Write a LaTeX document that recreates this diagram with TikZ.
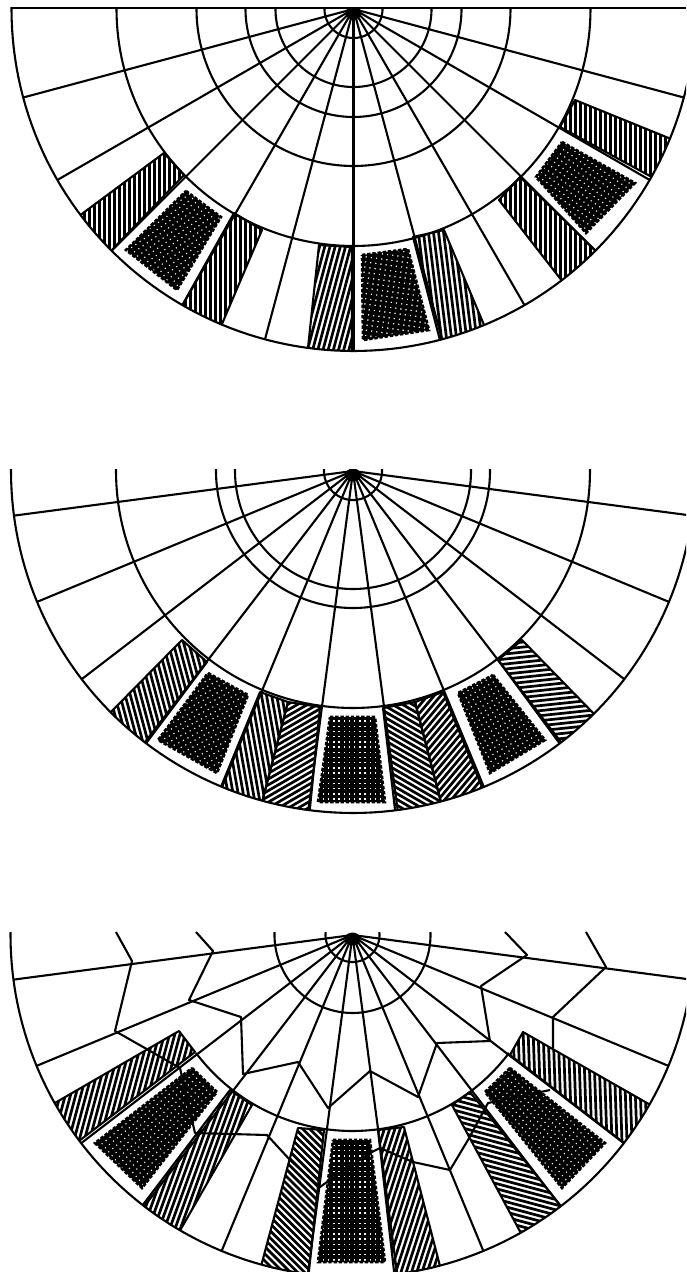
\documentclass[tikz,border=0pt]{standalone}
\usetikzlibrary{calc}
\newcommand{\hatchband}[3]{%
  \begin{scope}
    \clip #1 -- cycle;
    \foreach \k in {-28,...,28}
      \draw[hatchline, shift={(#2)}, rotate=#3] (-180,\k*5.0) -- (180,\k*5.0);
  \end{scope}
  \draw[wire] #1 -- cycle;}
\newcommand{\coilblock}[3]{%
  \begin{scope}
    \clip #1 -- cycle;
    \foreach \k in {-20,...,20} {
      \draw[gridline, shift={(#2)}, rotate=#3] (-120,\k*5.2) -- (120,\k*5.2);
      \draw[gridline, shift={(#2)}, rotate=#3] (\k*5.2,-120) -- (\k*5.2,120);
    }
  \end{scope}
  \draw[coiledge] #1 -- cycle;}
\begin{document}
\begin{tikzpicture}[
    x=1pt, y=-1pt,
    wire/.style={line width=2.1pt, line join=round},
    hatchline/.style={line width=2.7pt},
    gridline/.style={line width=3.8pt},
    coiledge/.style={line width=2.6pt, dash pattern=on 3.4pt off 1.8pt}
  ]
  \useasboundingbox (0,0) rectangle (686,1272);

  %% --- top section ---
  \begin{scope}
    \clip (353.5,9) circle (342);
    \hatchband{(75,219) -- (164,153) -- (184,175) -- (107,255)}{134.5,195}{90}
    \hatchband{(234,213) -- (262,230) -- (219,331) -- (179,311)}{225.5,265}{90}
    \coilblock{(186,191) -- (221,217) -- (177,290) -- (126,250)}{174,240}{-55}
    \hatchband{(319,245) -- (352,247) -- (352,358) -- (307,357)}{332,297}{75}
    \coilblock{(362,255) -- (408,249) -- (429,330) -- (363,340)}{395,295}{-8}
    \hatchband{(413,237) -- (444,230) -- (487,332) -- (442,348)}{445,285}{97}
    \coilblock{(562,142) -- (635,183) -- (586,233) -- (536,177)}{585,187}{-35}
    \hatchband{(575,100) -- (676,141) -- (661,182) -- (560,127)}{615.5,135}{90}
    \hatchband{(520,177) -- (499,200) -- (566,286) -- (600,255)}{545.5,225}{90}
  \end{scope}
  \begin{scope}
    \clip (0,7) rectangle (686,360);
    \begin{scope}[shift={(353.5,9)}]
      \foreach \r in {29,78,108,157,237,342}
        \draw[wire] plot[domain=-8:188, samples=121] (\x:\r);
      \foreach \a in {15,30,...,165}
        \draw[wire] (0,0) -- (\a:342);
      \fill (0,4) ellipse (8 and 6.5);
    \end{scope}
  \end{scope}
  \draw[line width=2.2pt] (11,8) -- (686,8);

  %% --- middle section ---
  \begin{scope}
    \clip (353,471) circle (342);
    \hatchband{(182,640) -- (207,662) -- (141,750) -- (106,717)}{160,690}{105}
    \coilblock{(208,673) -- (248,695) -- (217,773) -- (158,740)}{205,720}{-62}
    \hatchband{(260,692) -- (288,702) -- (260,810) -- (218,794)}{255,745}{100}
    \hatchband{(288,702) -- (320,707) -- (309,818) -- (260,810)}{290,755}{30}
    \coilblock{(330,717) -- (375,717) -- (385,802) -- (318,802)}{352,760}{0}
    \hatchband{(383,708) -- (415,702) -- (443,810) -- (396,818)}{410,755}{-30}
    \hatchband{(415,702) -- (443,692) -- (484,792) -- (443,810)}{445,745}{50}
    \coilblock{(493,675) -- (545,740) -- (490,773) -- (458,693)}{497,725}{30}
    \hatchband{(522,640) -- (498,660) -- (563,748) -- (599,719)}{545,690}{6}
  \end{scope}
  \begin{scope}
    \clip (0,469) rectangle (686,830);
    \begin{scope}[shift={(353,471)}]
      \foreach \r in {29,118,137,237,342}
        \draw[wire] plot[domain=-8:188, samples=121] (\x:\r);
      \foreach \a in {7.5,22.5,...,172.5}
        \draw[wire] (0,0) -- (\a:342);
      \fill (0,4) ellipse (8 and 6.5);
    \end{scope}
  \end{scope}

  %% --- bottom section ---
  \begin{scope}
    \clip (352.5,935) circle (342);
    \hatchband{(179,1031) -- (195,1052) -- (75,1144) -- (48,1107)}{125,1085}{75}
    \hatchband{(230,1090) -- (252,1105) -- (178,1234) -- (139,1210)}{200,1160}{70}
    \coilblock{(192,1068) -- (217,1092) -- (142,1188) -- (95,1143)}{155,1130}{-50}
    \hatchband{(298,1128) -- (324,1130) -- (308,1280) -- (260,1270)}{298,1195}{-45}
    \coilblock{(333,1140) -- (370,1140) -- (385,1262) -- (318,1262)}{352,1200}{0}
    \hatchband{(378,1130) -- (404,1127) -- (441,1270) -- (395,1280)}{405,1195}{72}
    \hatchband{(470,1092) -- (452,1105) -- (523,1237) -- (564,1210)}{505,1160}{-15}
    \coilblock{(510,1068) -- (485,1092) -- (562,1188) -- (605,1143)}{548,1130}{40}
    \hatchband{(523,1032) -- (510,1055) -- (628,1146) -- (654,1107)}{580,1085}{92}
  \end{scope}
  \begin{scope}
    \clip (0,932) rectangle (686,1272);
    \begin{scope}[shift={(352.5,935)}]
      \foreach \r in {27,78}
        \draw[wire] plot[domain=-8:188, samples=61] (\x:\r);
      \draw[wire] plot[domain=37:143, samples=61] (\x:196);
      \draw[wire] plot[domain=-8:188, samples=121] (\x:342);
      \foreach \a in {7.5,22.5,...,172.5}
        \draw[wire] (0,0) -- (\a:342);
      \fill (0,4) ellipse (8 and 6.5);
    \end{scope}
  \end{scope}

  %% --- bent windings ---
  \draw[wire] (116,932) -- (132,961) -- (115,1031) -- (180,1068) -- (195,1133)
    -- (267,1135) -- (290,1160) -- (320,1187) -- (327,1182) -- (370,1153)
    -- (380,1148) -- (413,1162) -- (450,1170) -- (468,1140) -- (488,1103)
    -- (550,1090);
  \draw[wire] (553,1048) -- (553,1017) -- (606,967) -- (586,932);
  \draw[wire] (196,932) -- (213,951) -- (189,1000) -- (241,1017) -- (243,1074)
    -- (298,1062) -- (328,1108) -- (370,1071) -- (418,1097) -- (437,1043)
    -- (490,1041) -- (481,986) -- (527,955) -- (505,932);
\end{tikzpicture}
\end{document}
